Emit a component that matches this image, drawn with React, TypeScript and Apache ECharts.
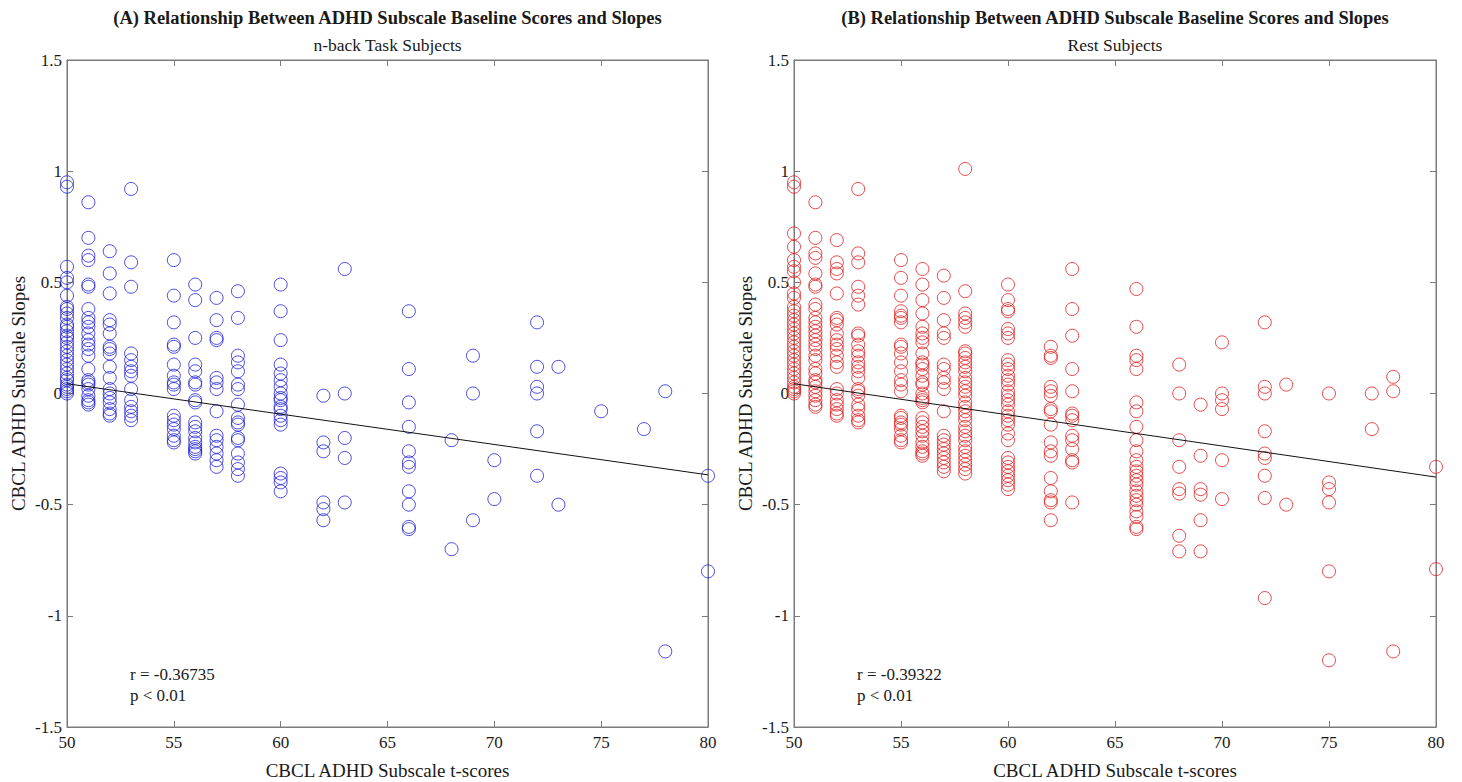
import React, { useEffect, useRef } from "react";
import * as echarts from "echarts";

// ---- Data ----
const tScoreColumnsA = [50, 51, 52, 53, 55, 56, 57, 58, 60, 62, 63, 66, 68, 69, 70, 72, 73, 75, 77, 78, 80];
const slopesA = [
  [0.95, 0.93, 0.57, 0.52, 0.5, 0.44, 0.39, 0.38, 0.36, 0.34, 0.31, 0.3, 0.28, 0.26, 0.25, 0.23, 0.21, 0.19, 0.17, 0.15, 0.13, 0.11, 0.09, 0.07, 0.06, 0.04, 0.03, 0.02, 0.01, 0.0],
  [0.86, 0.7, 0.62, 0.6, 0.49, 0.48, 0.38, 0.34, 0.32, 0.3, 0.27, 0.24, 0.22, 0.2, 0.17, 0.11, 0.06, 0.05, 0.04, 0.02, -0.01, -0.03, -0.04, -0.05],
  [0.64, 0.54, 0.45, 0.33, 0.31, 0.27, 0.21, 0.2, 0.18, 0.12, 0.07, 0.02, 0.0, -0.02, -0.04, -0.07, -0.09, -0.1],
  [0.92, 0.59, 0.48, 0.18, 0.15, 0.12, 0.1, 0.08, 0.02, -0.03, -0.06, -0.08, -0.1, -0.12],
  [0.6, 0.44, 0.32, 0.22, 0.21, 0.13, 0.08, 0.05, 0.04, 0.02, -0.1, -0.12, -0.14, -0.16, -0.19, -0.21, -0.22],
  [0.49, 0.42, 0.25, 0.13, 0.1, 0.05, 0.04, -0.03, -0.04, -0.13, -0.15, -0.17, -0.2, -0.22, -0.24, -0.25, -0.26, -0.27],
  [0.43, 0.33, 0.25, 0.24, 0.07, 0.05, 0.02, -0.08, -0.19, -0.21, -0.24, -0.27, -0.3, -0.33],
  [0.46, 0.34, 0.17, 0.14, 0.1, 0.04, 0.02, -0.05, -0.11, -0.13, -0.14, -0.2, -0.21, -0.27, -0.31, -0.34, -0.37],
  [0.49, 0.37, 0.24, 0.13, 0.09, 0.06, 0.03, 0.0, -0.02, -0.03, -0.06, -0.07, -0.1, -0.12, -0.14, -0.36, -0.38, -0.4, -0.44],
  [-0.01, -0.22, -0.26, -0.49, -0.52, -0.57],
  [0.56, 0.0, -0.2, -0.29, -0.49],
  [0.37, 0.11, -0.04, -0.15, -0.26, -0.31, -0.33, -0.44, -0.5, -0.6, -0.61],
  [-0.21, -0.7],
  [0.17, 0.0, -0.57],
  [-0.3, -0.475],
  [0.32, 0.12, 0.03, 0.0, -0.17, -0.37],
  [0.12, -0.5],
  [-0.08],
  [-0.16],
  [0.01, -1.16],
  [-0.37, -0.8],
];
const fitLineA = [[50, 0.044], [80, -0.366]];

const tScoreColumnsB = [50, 51, 52, 53, 55, 56, 57, 58, 60, 62, 63, 66, 68, 69, 70, 72, 73, 75, 77, 78, 80];
const slopesB = [
  [0.95, 0.93, 0.72, 0.66, 0.6, 0.57, 0.55, 0.5, 0.45, 0.43, 0.39, 0.37, 0.35, 0.33, 0.31, 0.29, 0.27, 0.25, 0.23, 0.21, 0.19, 0.17, 0.15, 0.13, 0.11, 0.09, 0.07, 0.05, 0.03, 0.02, 0.01, 0.0],
  [0.86, 0.7, 0.63, 0.61, 0.54, 0.49, 0.48, 0.4, 0.38, 0.34, 0.32, 0.3, 0.28, 0.26, 0.24, 0.22, 0.2, 0.17, 0.15, 0.11, 0.09, 0.06, 0.05, 0.03, 0.01, -0.01, -0.03, -0.05, -0.06],
  [0.69, 0.59, 0.56, 0.54, 0.45, 0.34, 0.33, 0.31, 0.27, 0.24, 0.22, 0.2, 0.17, 0.14, 0.12, 0.02, 0.0, -0.03, -0.05, -0.07, -0.09, -0.1],
  [0.92, 0.63, 0.59, 0.48, 0.44, 0.4, 0.27, 0.26, 0.22, 0.19, 0.17, 0.14, 0.12, 0.1, 0.07, 0.02, 0.01, -0.01, -0.05, -0.07, -0.1, -0.12, -0.13],
  [0.6, 0.52, 0.44, 0.37, 0.35, 0.34, 0.32, 0.22, 0.21, 0.18, 0.14, 0.1, 0.06, 0.04, 0.01, -0.1, -0.11, -0.13, -0.14, -0.16, -0.19, -0.21, -0.22],
  [0.56, 0.49, 0.42, 0.36, 0.3, 0.27, 0.25, 0.23, 0.18, 0.14, 0.13, 0.11, 0.08, 0.05, 0.04, 0.0, -0.02, -0.03, -0.04, -0.11, -0.13, -0.15, -0.17, -0.19, -0.22, -0.24, -0.26, -0.27, -0.28],
  [0.53, 0.43, 0.33, 0.27, 0.25, 0.13, 0.11, 0.07, 0.05, 0.02, -0.08, -0.19, -0.21, -0.23, -0.25, -0.27, -0.29, -0.31, -0.33, -0.35],
  [1.01, 0.46, 0.36, 0.34, 0.32, 0.3, 0.19, 0.18, 0.16, 0.14, 0.12, 0.1, 0.07, 0.05, 0.03, 0.01, -0.01, -0.04, -0.06, -0.08, -0.1, -0.12, -0.15, -0.17, -0.19, -0.21, -0.24, -0.26, -0.28, -0.3, -0.32, -0.34, -0.36],
  [0.49, 0.42, 0.38, 0.37, 0.29, 0.27, 0.25, 0.15, 0.13, 0.11, 0.08, 0.06, 0.04, 0.01, -0.01, -0.03, -0.05, -0.08, -0.1, -0.12, -0.14, -0.18, -0.21, -0.29, -0.31, -0.33, -0.35, -0.37, -0.39, -0.41, -0.43],
  [0.21, 0.17, 0.16, 0.03, 0.01, -0.01, -0.07, -0.08, -0.14, -0.22, -0.26, -0.28, -0.38, -0.44, -0.48, -0.49, -0.57],
  [0.56, 0.38, 0.26, 0.11, 0.01, -0.09, -0.1, -0.12, -0.19, -0.21, -0.25, -0.3, -0.31, -0.49],
  [0.47, 0.3, 0.17, 0.15, 0.11, -0.04, -0.08, -0.15, -0.21, -0.26, -0.3, -0.33, -0.35, -0.37, -0.39, -0.41, -0.44, -0.46, -0.48, -0.5, -0.53, -0.555, -0.6, -0.61],
  [0.13, 0.0, -0.21, -0.33, -0.43, -0.45, -0.64, -0.71],
  [-0.05, -0.28, -0.43, -0.455, -0.57, -0.71],
  [0.23, 0.0, -0.03, -0.07, -0.3, -0.475],
  [0.32, 0.03, 0.0, -0.17, -0.27, -0.29, -0.37, -0.47, -0.92],
  [0.04, -0.5],
  [0.0, -0.4, -0.43, -0.49, -0.8, -1.2],
  [0.0, -0.16],
  [0.075, 0.01, -1.16],
  [-0.33, -0.79],
];
const fitLineB = [[50, 0.044], [80, -0.376]];

const panelTitles = [
  "(A) Relationship Between ADHD Subscale Baseline Scores and Slopes",
  "(B) Relationship Between ADHD Subscale Baseline Scores and Slopes",
];
const panelSubtitles = ["n-back Task Subjects", "Rest Subjects"];
const statsR = ["r = -0.36735", "r = -0.39322"];
const statsP = ["p < 0.01", "p < 0.01"];
const xAxisTitle = "CBCL ADHD Subscale t-scores";
const yAxisTitle = "CBCL ADHD Subscale Slopes";

const FONT = "'Liberation Serif', 'Times New Roman', serif";
const AXIS_COLOR = "#7a7a7a";
const TEXT_COLOR = "#1a1a1a";

function toPoints(cols: number[], vals: number[][]) {
  const out: number[][] = [];
  cols.forEach((x, i) => vals[i].forEach((v) => out.push([x, v])));
  return out;
}

export default function App() {
  const ref = useRef<HTMLDivElement>(null);

  useEffect(() => {
    document.body.style.margin = "0";
    if (!ref.current) return;
    const chart = echarts.init(ref.current, undefined, { renderer: "svg" });

    const grids = [
      { left: 67, top: 60, width: 641, height: 667 },
      { left: 794, top: 60, width: 642, height: 667 },
    ];

    const xAxes: any[] = [];
    const yAxes: any[] = [];
    grids.forEach((_, gi) => {
      const common = {
        gridIndex: gi,
        type: "value",
        axisLine: { show: true, onZero: false, lineStyle: { color: AXIS_COLOR, width: 1 } },
        axisTick: { show: true, inside: true, length: 6, lineStyle: { color: AXIS_COLOR } },
        splitLine: { show: false },
      };
      const xc = { ...common, min: 50, max: 80, interval: 5 };
      const yc = { ...common, min: -1.5, max: 1.5, interval: 0.5 };
      xAxes.push({
        ...xc,
        position: "bottom",
        axisLabel: { color: TEXT_COLOR, fontFamily: FONT, fontSize: 17, margin: 7 },
      });
      xAxes.push({ ...xc, position: "top", axisLabel: { show: false } });
      yAxes.push({
        ...yc,
        position: "left",
        axisLabel: { color: TEXT_COLOR, fontFamily: FONT, fontSize: 17, margin: 5 },
      });
      yAxes.push({ ...yc, position: "right", axisLabel: { show: false } });
    });

    const colors = ["#1f1fdc", "#e31b1b"];
    const pointSets = [toPoints(tScoreColumnsA, slopesA), toPoints(tScoreColumnsB, slopesB)];
    const fits = [fitLineA, fitLineB];

    const series: any[] = [];
    grids.forEach((_, gi) => {
      series.push({
        type: "scatter",
        xAxisIndex: gi * 2,
        yAxisIndex: gi * 2,
        data: pointSets[gi],
        symbol: "circle",
        symbolSize: 13,
        clip: false,
        itemStyle: { color: "rgba(0,0,0,0)", borderColor: colors[gi], borderWidth: 1 },
        z: 2,
      });
      series.push({
        type: "line",
        xAxisIndex: gi * 2,
        yAxisIndex: gi * 2,
        data: fits[gi],
        symbol: "none",
        lineStyle: { color: "#111", width: 1 },
        z: 3,
      });
    });

    const graphics: any[] = [];
    grids.forEach((g, gi) => {
      const cx = g.left + g.width / 2;
      graphics.push({
        type: "text",
        x: cx,
        y: 18,
        style: {
          text: panelTitles[gi],
          font: `bold 18.5px ${FONT}`,
          fill: TEXT_COLOR,
          textAlign: "center",
          textVerticalAlign: "middle",
        },
      });
      graphics.push({
        type: "text",
        x: cx,
        y: 45,
        style: {
          text: panelSubtitles[gi],
          font: `17.5px ${FONT}`,
          fill: TEXT_COLOR,
          textAlign: "center",
          textVerticalAlign: "middle",
        },
      });
      graphics.push({
        type: "text",
        x: cx,
        y: 770,
        style: {
          text: xAxisTitle,
          font: `19px ${FONT}`,
          fill: TEXT_COLOR,
          textAlign: "center",
          textVerticalAlign: "middle",
        },
      });
      graphics.push({
        type: "text",
        x: g.left - 49,
        y: g.top + g.height / 2,
        rotation: Math.PI / 2,
        style: {
          text: yAxisTitle,
          font: `19px ${FONT}`,
          fill: TEXT_COLOR,
          textAlign: "center",
          textVerticalAlign: "middle",
        },
      });
      graphics.push({
        type: "text",
        x: g.left + 63,
        y: 674,
        style: {
          text: statsR[gi],
          font: `17px ${FONT}`,
          fill: TEXT_COLOR,
          textAlign: "left",
          textVerticalAlign: "middle",
        },
      });
      graphics.push({
        type: "text",
        x: g.left + 63,
        y: 695,
        style: {
          text: statsP[gi],
          font: `17px ${FONT}`,
          fill: TEXT_COLOR,
          textAlign: "left",
          textVerticalAlign: "middle",
        },
      });
    });

    chart.setOption({
      animation: false,
      backgroundColor: "#ffffff",
      grid: grids.map((g) => ({ ...g, show: true, borderColor: AXIS_COLOR, borderWidth: 1, containLabel: false })),
      xAxis: xAxes,
      yAxis: yAxes,
      series,
      graphic: graphics,
    });

    return () => chart.dispose();
  }, []);

  return <div ref={ref} style={{ width: 1462, height: 782 }} />;
}
